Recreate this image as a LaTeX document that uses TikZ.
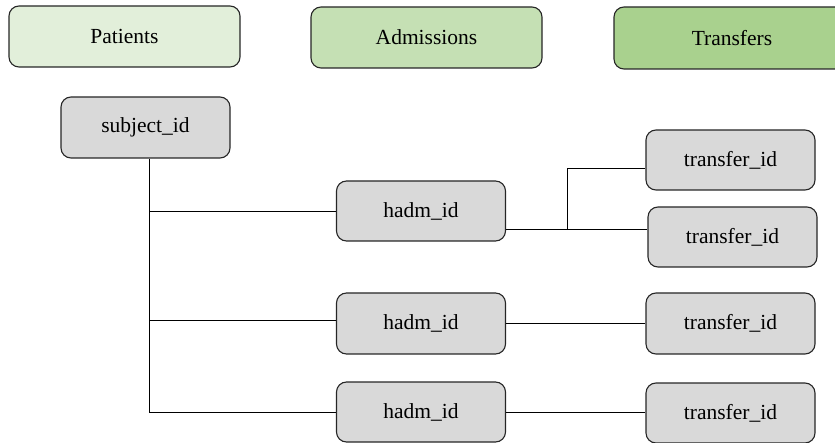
\documentclass[tikz,border=0pt]{standalone}
\usepackage{fontspec}
\setmainfont{Liberation Serif}
\definecolor{patgreen}{HTML}{E2EFDA}
\definecolor{admgreen}{HTML}{C5E0B4}
\definecolor{trfgreen}{HTML}{A9D18E}
\definecolor{idgray}{HTML}{D9D9D9}
\definecolor{edgegray}{HTML}{262626}
\begin{document}
\begin{tikzpicture}[x=1pt,y=-1pt,
  box/.style={draw=edgegray, line width=1.1pt, rounded corners=10pt,
    minimum height=61pt, inner sep=0pt, align=center,
    font=\fontsize{21.5}{26}\selectfont},
  header/.style={box, minimum width=231pt},
  idbox/.style={box, fill=idgray, minimum width=169pt, minimum height=60pt},
  link/.style={draw=black, line width=0.9pt}
]
\useasboundingbox (0,0) rectangle (835,443);

% table headers
\node[header, fill=patgreen] (pat) at (124.5,36.5) {Patients};
\node[header, fill=admgreen] (adm) at (426.5,37.5) {Admissions};
\node[header, fill=trfgreen, minimum width=236pt, minimum height=62pt] (trf) at (732,38) {Transfers};

% key fields
\node[idbox, minimum height=61pt] (subj) at (145.5,127.5) {subject\_id};
\node[idbox] (h1) at (421,211) {hadm\_id};
\node[idbox, minimum height=61pt] (h2) at (421,323.5) {hadm\_id};
\node[idbox] (h3) at (421,412) {hadm\_id};
\node[idbox] (tA) at (730.5,160) {transfer\_id};
\node[idbox] (tB) at (732.5,237) {transfer\_id};
\node[idbox, minimum height=61pt] (t2) at (730.5,323.5) {transfer\_id};
\node[idbox] (t3) at (730.5,413) {transfer\_id};

% patient -> admissions trunk
\coordinate (trunk) at (149,0);
\draw[link] (subj.south -| trunk) -- (trunk |- 0,412.5);
\draw[link] (trunk |- h1.west) -- (h1.west);
\draw[link] (trunk |- 0,320.5) -- (h2.west |- 0,320.5);
\draw[link] (trunk |- 0,412.5) -- (h3.west |- 0,412.5);

% admission -> transfers
\coordinate (fork) at (567,229);
\coordinate (forktop) at (567,168);
\draw[link] (h1.east |- fork) -- (tB.west |- fork);
\draw[link] (fork) -- (forktop) -- (tA.west |- forktop);
\draw[link] (h2.east |- 0,323) -- (t2.west |- 0,323);
\draw[link] (h3.east) -- (t3.west |- h3.east);
\end{tikzpicture}
\end{document}
